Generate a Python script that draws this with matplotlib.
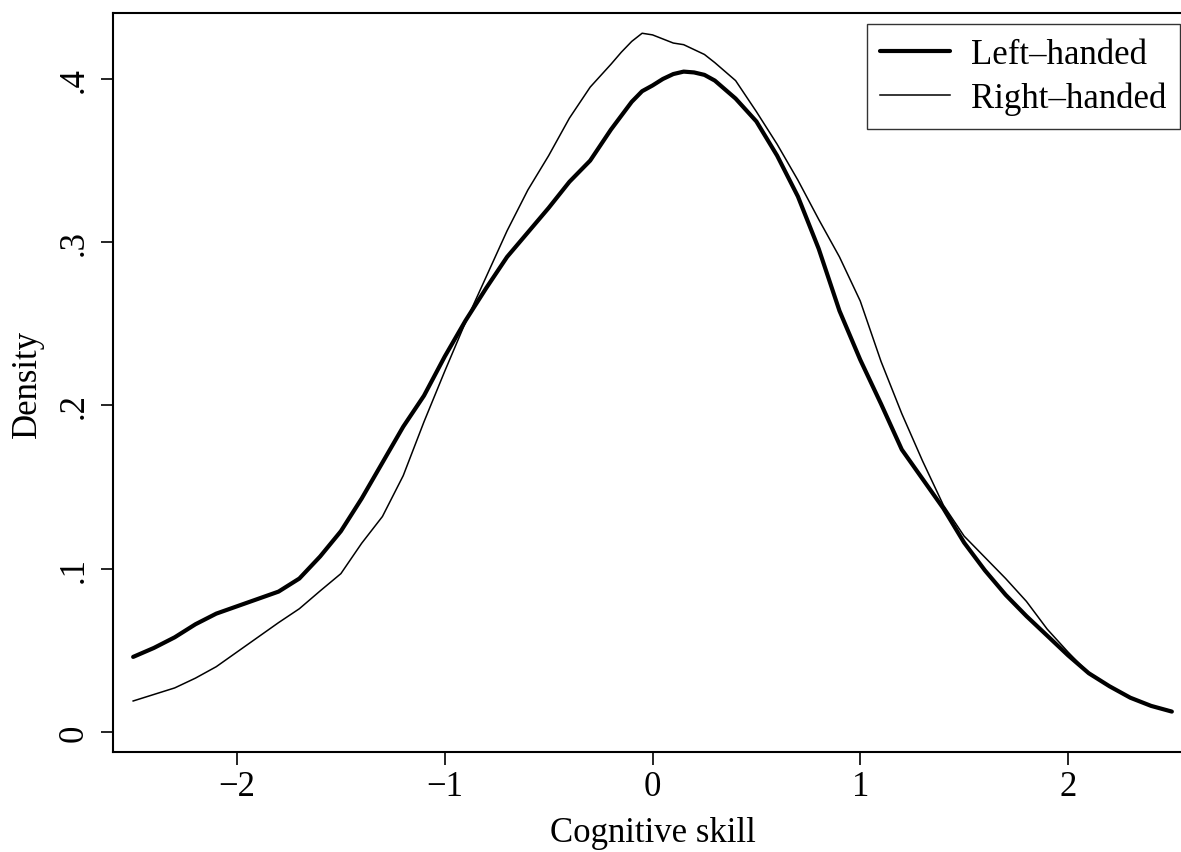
import matplotlib
matplotlib.use("Agg")
import matplotlib.pyplot as plt

x_left = [-2.5, -2.4, -2.3, -2.2, -2.1, -2.0, -1.9, -1.8, -1.7, -1.6,
          -1.5, -1.4, -1.3, -1.2, -1.1, -1.0, -0.9, -0.8, -0.7, -0.6,
          -0.5, -0.4, -0.3, -0.2, -0.1, -0.05, 0.0, 0.05, 0.1, 0.15, 0.2, 0.25, 0.3, 0.4,
          0.5, 0.6, 0.7, 0.8, 0.9, 1.0, 1.1, 1.2, 1.3, 1.4,
          1.5, 1.6, 1.7, 1.8, 1.9, 2.0, 2.1, 2.2, 2.3, 2.4, 2.5]
left_handed = [0.046, 0.0515, 0.058, 0.066, 0.0725, 0.077, 0.0815, 0.086, 0.094, 0.1075,
               0.123, 0.143, 0.165, 0.187, 0.206, 0.230, 0.252, 0.272, 0.291, 0.306,
               0.321, 0.337, 0.350, 0.369, 0.386, 0.3925, 0.396, 0.400, 0.403, 0.4045, 0.404, 0.4025, 0.399, 0.388,
               0.374, 0.353, 0.328, 0.296, 0.258, 0.228, 0.201, 0.173, 0.155, 0.137,
               0.116, 0.099, 0.084, 0.071, 0.059, 0.047, 0.036, 0.028, 0.021, 0.016, 0.0125]

x_right = [-2.5, -2.4, -2.3, -2.2, -2.1, -2.0, -1.9, -1.8, -1.7, -1.6,
           -1.5, -1.4, -1.3, -1.2, -1.1, -1.0, -0.9, -0.8, -0.7, -0.6,
           -0.5, -0.4, -0.3, -0.2, -0.15, -0.1, -0.05, 0.0, 0.05, 0.1, 0.15, 0.2, 0.25, 0.3, 0.4,
           0.5, 0.6, 0.7, 0.8, 0.9, 1.0, 1.1, 1.2, 1.3, 1.4,
           1.5, 1.6, 1.7, 1.8, 1.9, 2.0, 2.1, 2.2, 2.3, 2.4, 2.5]
right_handed = [0.019, 0.023, 0.027, 0.033, 0.040, 0.049, 0.058, 0.067, 0.0755, 0.0864,
                0.097, 0.1156, 0.132, 0.157, 0.190, 0.221, 0.251, 0.279, 0.307, 0.332,
                0.353, 0.376, 0.395, 0.409, 0.4164, 0.423, 0.428, 0.427, 0.4245, 0.422, 0.421, 0.418, 0.415, 0.410, 0.399,
                0.380, 0.360, 0.338, 0.314, 0.291, 0.264, 0.227, 0.195, 0.166, 0.139,
                0.120, 0.107, 0.094, 0.080, 0.063, 0.049, 0.036, 0.028, 0.021, 0.016, 0.013]

series_labels = ["Left\u2013handed", "Right\u2013handed"]
x_ticks = [-2, -1, 0, 1, 2]
x_tick_labels = ["\u22122", "\u22121", "0", "1", "2"]
y_ticks = [0, 0.1, 0.2, 0.3, 0.4]
y_tick_labels = ["0", ".1", ".2", ".3", ".4"]

plt.rcParams['font.family'] = ['Liberation Serif', 'DejaVu Serif']
FS = 25

W, H = 1181, 853
fig = plt.figure(figsize=(W / 100, H / 100), dpi=100)
ax = fig.add_axes([113 / W, (H - 753) / H, (1192 - 113) / W, (753 - 14) / H])

ax.plot(x_left, left_handed, color='black', lw=3.0, label=series_labels[0],
        solid_joinstyle='round', solid_capstyle='round')
ax.plot(x_right, right_handed, color='black', lw=1.1, label=series_labels[1],
        solid_joinstyle='round')

ax.set_xlim(-2.597, 2.597)
ax.set_ylim(-0.01225, 0.4404)

ax.set_xticks(x_ticks)
ax.set_xticklabels(x_tick_labels)
ax.set_yticks(y_ticks)
ax.set_yticklabels(y_tick_labels, rotation=90, va='center')

ax.tick_params(axis='both', direction='out', length=9, width=1.2,
               labelsize=FS, color='black')
ax.tick_params(axis='x', pad=4)
ax.tick_params(axis='y', pad=7)

for s in ax.spines.values():
    s.set_linewidth(1.5)
    s.set_color('black')

ax.set_xlabel("Cognitive skill", fontsize=FS, labelpad=9)
ax.set_ylabel("Density", fontsize=FS, labelpad=10)

leg = ax.legend(loc='upper right', bbox_to_anchor=(1180 / W, (H - 25) / H),
                bbox_transform=fig.transFigure, borderaxespad=0,
                fontsize=FS, frameon=True, fancybox=False, edgecolor='black',
                handlelength=2.0, handletextpad=0.6, labelspacing=0.3,
                borderpad=0.4)
leg.get_frame().set_linewidth(1.0)

fig.savefig("out.png", dpi=100)
